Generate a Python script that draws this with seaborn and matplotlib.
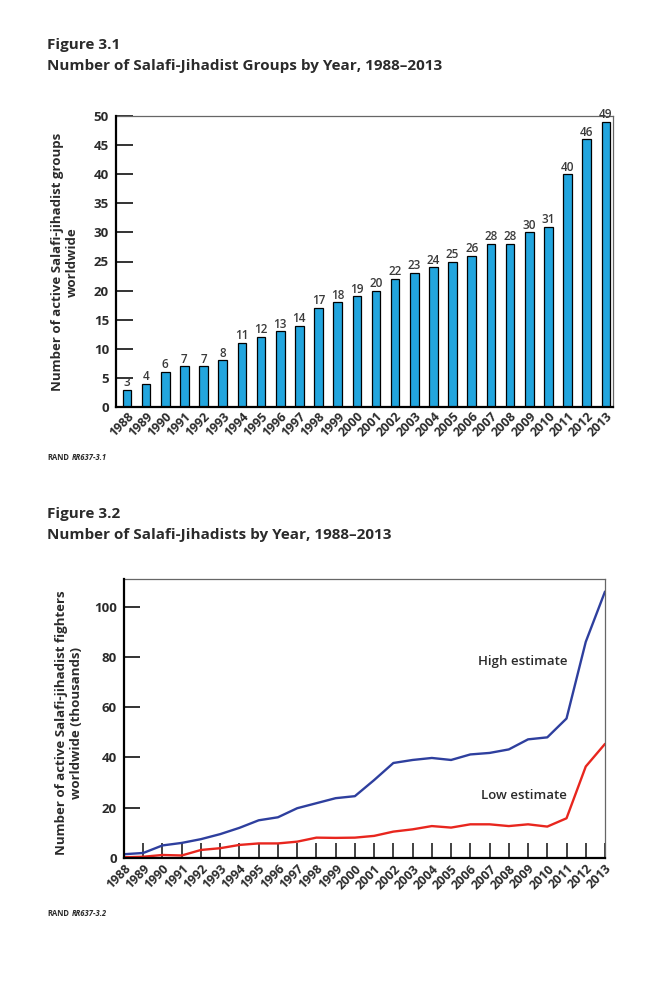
import seaborn as sns
import matplotlib.pyplot as plt

# data
years = list(range(1988, 2014))
year_labels = [str(y) for y in years]
groups = [3, 4, 6, 7, 7, 8, 11, 12, 13, 14, 17, 18, 19, 20, 22, 23, 24, 25, 26,
          28, 28, 30, 31, 40, 46, 49]
high_est = [1.5, 2, 5, 6, 7.5, 9.5, 12, 15, 16.2, 19.8, 21.8, 23.8, 24.6, 31,
            37.8, 39, 39.8, 39, 41.2, 41.8, 43.2, 47.2, 48, 55.5, 86, 106]
low_est = [0.3, 0.5, 1.2, 1, 3.2, 3.9, 5.2, 5.8, 5.8, 6.5, 8.1, 8, 8.1, 8.8,
           10.5, 11.4, 12.7, 12.1, 13.4, 13.4, 12.7, 13.4, 12.5, 15.8, 36.4, 45.4]

BAR = "#22A5DE"
BLUE = "#2E3F9E"
RED = "#E8261E"
TXT = "#2b2b2b"
W, H = 659, 992

sns.set_theme(style="white")
plt.rcParams["font.family"] = ["Open Sans", "DejaVu Sans"]


def fx(x):
    return x / W


def fy(y):
    return 1 - y / H


def style_frame(ax):
    for s in ["left", "bottom"]:
        ax.spines[s].set_color("black")
        ax.spines[s].set_linewidth(1.6)
    for s in ["top", "right"]:
        ax.spines[s].set_color("#666666")
        ax.spines[s].set_linewidth(0.9)
    ax.spines["left"].set_zorder(5)
    ax.spines["bottom"].set_zorder(5)


def footer(y, code):
    fig.text(fx(47), fy(y), "RAND", fontsize=5.5, fontweight="bold", color=TXT, va="center")
    fig.text(fx(72), fy(y), code, fontsize=5.5, fontweight="bold", style="italic",
             color=TXT, va="center")


fig = plt.figure(figsize=(6.59, 9.92), dpi=100)

# ---------------- Figure 3.1 ----------------
fig.text(fx(47), fy(45), "Figure 3.1", fontsize=11, fontweight="bold", color=TXT, va="center")
fig.text(fx(47), fy(66), "Number of Salafi-Jihadist Groups by Year, 1988\u20132013",
         fontsize=11, fontweight="bold", color=TXT, va="center")

ax1 = fig.add_axes([fx(116), fy(407), (613 - 116) / W, (407 - 116) / H])
sns.barplot(x=year_labels, y=groups, color=BAR, saturation=1, edgecolor="black",
            linewidth=0.9, width=0.45, ax=ax1)
ax1.bar_label(ax1.containers[0], padding=0.5, fontsize=8.5, color="#3a3a3a",
              fontweight="semibold")
ax1.set_xlim(-0.57, 25.37)
ax1.set_ylim(0, 50)
ax1.set_yticks(range(0, 51, 5))
ax1.tick_params(axis="y", left=True, direction="in", length=12, width=1.4, color="#333333",
                labelsize=9.5, labelcolor=TXT, pad=5)
ax1.tick_params(axis="x", bottom=True, length=0, labelsize=9, labelcolor=TXT, pad=2)
plt.setp(ax1.get_xticklabels(), rotation=45, ha="right", va="top",
         rotation_mode="anchor", fontweight="bold")
plt.setp(ax1.get_yticklabels(), fontweight="bold")
ax1.set_xlabel("")
ax1.set_ylabel("")
style_frame(ax1)
fig.text(fx(65), fy(262), "Number of active Salafi-jihadist groups\nworldwide",
         rotation=90, ha="center", va="center", multialignment="center",
         fontsize=9.5, fontweight="bold", color=TXT, linespacing=1.15)
footer(458, "RR637-3.1")

# ---------------- Figure 3.2 ----------------
fig.text(fx(47), fy(514), "Figure 3.2", fontsize=11, fontweight="bold", color=TXT, va="center")
fig.text(fx(47), fy(535), "Number of Salafi-Jihadists by Year, 1988\u20132013",
         fontsize=11, fontweight="bold", color=TXT, va="center")

ax2 = fig.add_axes([fx(124), fy(858), (605 - 124) / W, (858 - 579) / H])
sns.lineplot(x=years, y=high_est, color=BLUE, linewidth=1.7, ax=ax2)
sns.lineplot(x=years, y=low_est, color=RED, linewidth=1.7, ax=ax2)
ax2.set_xlim(1988, 2013)
ax2.set_ylim(0, 111)
ax2.set_xticks(years)
ax2.set_xticklabels(year_labels)
ax2.set_yticks(range(0, 101, 20))
ax2.tick_params(axis="y", left=True, direction="in", length=11.5, width=1.4, color="#333333",
                labelsize=9.5, labelcolor=TXT, pad=5)
ax2.tick_params(axis="x", bottom=True, direction="in", length=10.5, width=1.3, color="#333333",
                labelsize=9, labelcolor=TXT, pad=3)
plt.setp(ax2.get_xticklabels(), rotation=45, ha="right", va="top",
         rotation_mode="anchor", fontweight="bold")
plt.setp(ax2.get_yticklabels(), fontweight="bold")
ax2.set_xlabel("")
ax2.set_ylabel("")
style_frame(ax2)
ax2.text(2008.75, 78, "High estimate", ha="center", va="center", fontsize=9.5,
         fontweight="semibold", color=TXT)
ax2.text(2008.8, 24.7, "Low estimate", ha="center", va="center", fontsize=9.5,
         fontweight="semibold", color=TXT)
fig.text(fx(69), fy(723), "Number of active Salafi-jihadist fighters\nworldwide (thousands)",
         rotation=90, ha="center", va="center", multialignment="center",
         fontsize=9.5, fontweight="bold", color=TXT, linespacing=1.15)
footer(913, "RR637-3.2")

fig.savefig("out.png", dpi=100, facecolor="white")
